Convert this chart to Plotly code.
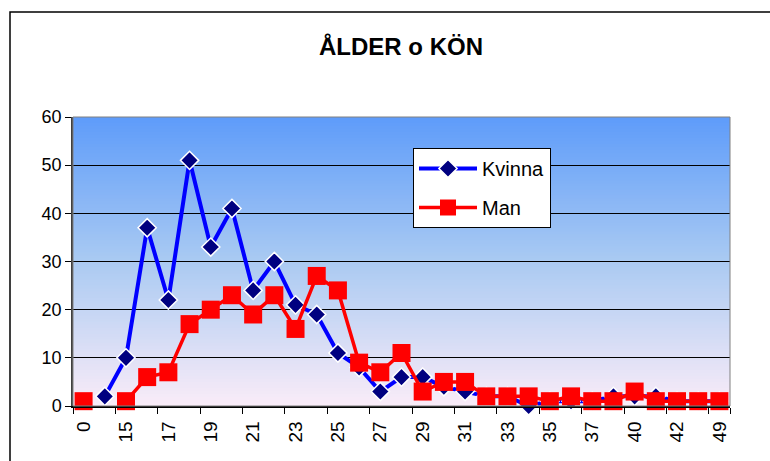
import plotly.graph_objects as go

categories = ["0", "14", "15", "16", "17", "18", "19", "20", "21", "22", "23", "24",
              "25", "26", "27", "28", "29", "30", "31", "32", "33", "34", "35", "36",
              "37", "38", "40", "41", "42", "45", "49"]
kvinna = [None, 2, 10, 37, 22, 51, 33, 41, 24, 30, 21, 19, 11, 8, 3, 6, 6, 4, 3, 2, 2,
          0, 1, 1, 1, 2, 2, 2, 1, 1, 1]
man = [1, None, 1, 6, 7, 17, 20, 23, 19, 23, 16, 27, 24, 9, 7, 11, 3, 5, 5, 2, 2,
       2, 1, 2, 1, 1, 3, 1, 1, 1, 1]
tick_labels = categories[0::2]
y_ticks = [0, 10, 20, 30, 40, 50, 60]

W, H = 770, 461
ML, MR, MT, MB = 73, 40, 117, 55
PW, PH = W - ML - MR, H - MT - MB

fig = go.Figure()
fig.add_trace(go.Scatter(
    x=categories, y=kvinna, name="Kvinna", mode="lines+markers",
    line=dict(color="#0000FF", width=4),
    marker=dict(symbol="diamond", size=14, color="#000080",
                line=dict(color="white", width=1.5)),
    cliponaxis=False, connectgaps=False, legendgroup="k"))
fig.add_trace(go.Scatter(
    x=categories, y=man, name="Man", mode="lines+markers",
    line=dict(color="#FF0000", width=3.5),
    marker=dict(symbol="square", size=18, color="#FF0000"),
    cliponaxis=False, connectgaps=False, legendgroup="m"))

# gradient background (styling), bottom -> middle -> top
stops = [(0.0, (250, 236, 248)), (0.5, (170, 202, 242)), (1.0, (94, 156, 250))]
shapes = []
N = 96
for i in range(N):
    t = (i + 0.5) / N
    for j in range(len(stops) - 1):
        if stops[j][0] <= t <= stops[j + 1][0]:
            a, ca = stops[j]
            b, cb = stops[j + 1]
            f = (t - a) / (b - a)
            c = tuple(int(round(ca[k] + (cb[k] - ca[k]) * f)) for k in range(3))
            break
    shapes.append(dict(type="rect", xref="paper", yref="paper",
                       x0=0, x1=1, y0=i / N, y1=min(1.0, (i + 1) / N + 2.0 / PH),
                       fillcolor="rgb(%d,%d,%d)" % c, line=dict(width=0),
                       layer="below"))
# plot area border
shapes.append(dict(type="rect", xref="paper", yref="paper", x0=0, x1=1, y0=0, y1=1,
                   line=dict(color="#808080", width=1), layer="above"))
# outer chart border
shapes.append(dict(type="rect", xref="paper", yref="paper",
                   x0=(10 - ML) / PW, x1=(W + 20 - ML) / PW,
                   y0=-(H + 20 - (MT + PH)) / PH, y1=(MT + PH - 12) / PH,
                   line=dict(color="black", width=1.5), fillcolor="rgba(0,0,0,0)",
                   layer="above"))

fig.update_layout(
    width=W, height=H,
    margin=dict(l=ML, r=MR, t=MT, b=MB, pad=0),
    paper_bgcolor="white", plot_bgcolor="rgba(0,0,0,0)",
    font=dict(family="Liberation Sans, Arial, sans-serif", color="black", size=18),
    title=dict(text="<b>ÅLDER o KÖN</b>", x=401 / W, xanchor="center",
               y=1 - 47 / H, yanchor="middle", yref="container",
               font=dict(size=24, color="black")),
    shapes=shapes,
    showlegend=True,
    legend=dict(x=(413 - ML) / PW, xanchor="left", y=(MT + PH - 148) / PH, yanchor="top",
                bgcolor="white", bordercolor="black", borderwidth=1,
                font=dict(size=20), traceorder="grouped", tracegroupgap=10,
                itemwidth=58),
    xaxis=dict(type="category", categoryorder="array", categoryarray=categories,
               tickmode="array", tickvals=tick_labels, ticktext=tick_labels,
               tickangle=-90, ticks="outside", tickson="boundaries", ticklen=6,
               ticklabelstandoff=6,
               tickcolor="black", showline=True, linecolor="black", linewidth=1.5,
               showgrid=False, tickfont=dict(size=19), range=[-0.5, len(categories) - 0.5]),
    yaxis=dict(range=[0, 60], tickmode="array", tickvals=y_ticks, ticks="outside",
               ticklen=6, tickcolor="black", showline=True, linecolor="#404040",
               linewidth=1.5, showgrid=True, gridcolor="black", gridwidth=1,
               zeroline=False, tickfont=dict(size=18)),
)

fig.write_html("out.html", config={"displayModeBar": False},
               post_script="document.body.style.margin='0';document.body.style.overflow='hidden';")
